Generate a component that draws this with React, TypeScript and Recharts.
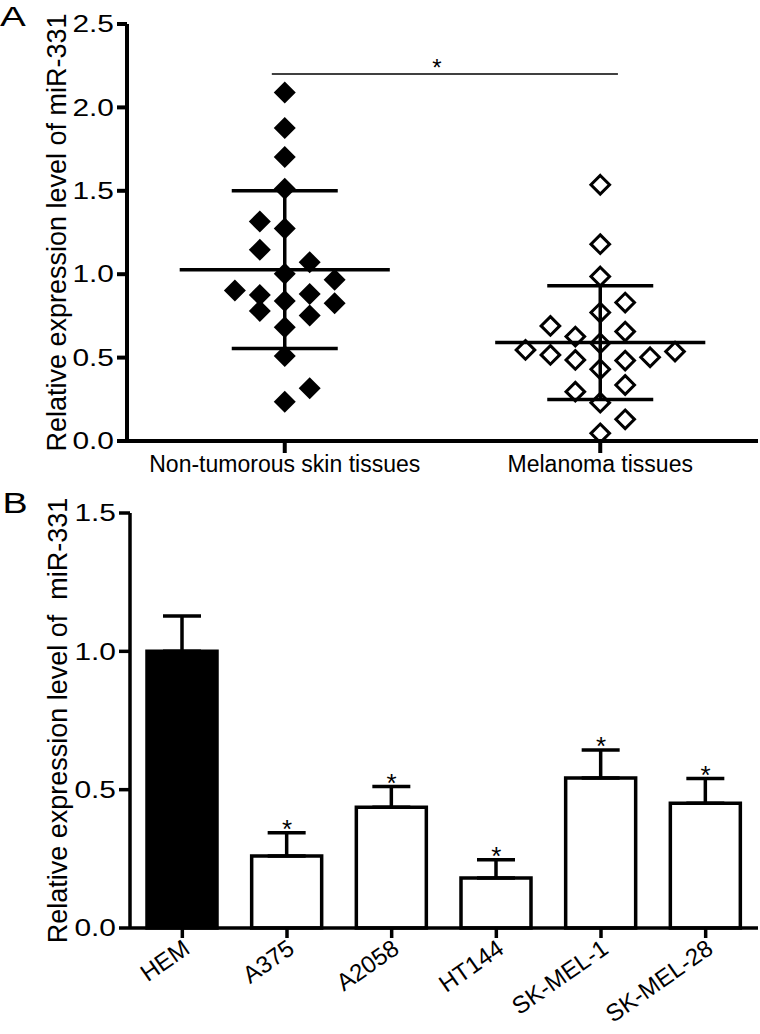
import React from "react";
import {
  Bar,
  Cell,
  ComposedChart,
  ErrorBar,
  Label,
  LabelList,
  Line,
  ReferenceLine,
  Scatter,
  ScatterChart,
  XAxis,
  YAxis,
} from "recharts";

const FONT = '"Liberation Sans", Arial, Helvetica, sans-serif';
const INK = "#000";

// Panel A: relative miR-331 per tissue sample
const TISSUE_GROUPS = ["Non-tumorous skin tissues", "Melanoma tissues"];
const NON_TUMOROUS = [
  2.089, 1.876, 1.702, 1.512, 1.316, 1.274, 1.146, 1.072, 1.002, 0.966, 0.902,
  0.876, 0.882, 0.84, 0.826, 0.78, 0.752, 0.682, 0.51, 0.316, 0.236,
];
// column of each dot inside its group (GraphPad-style scatter spread)
const NON_TUMOROUS_COL = [0, 0, 0, 0, -1, 0, -1, 1, 0, 2, -2, -1, 1, 0, 2, -1, 1, 0, 0, 1, 0];
const MELANOMA = [
  1.536, 1.18, 0.986, 0.83, 0.77, 0.69, 0.626, 0.656, 0.586, 0.546, 0.516,
  0.486, 0.482, 0.502, 0.536, 0.43, 0.336, 0.296, 0.23, 0.13, 0.046,
];
const MELANOMA_COL = [0, 0, 0, 1, 0, -2, -1, 1, 0, -3, -2, -1, 1, 2, 3, 0, 1, -1, 0, 1, 0];
const TISSUE_MEAN = [1.027, 0.59];
const TISSUE_SD = [0.473, 0.341];
const TISSUE_TICKS = [0, 0.5, 1, 1.5, 2, 2.5];
const TISSUE_SIG = { from: 0.459, to: 1.556, y: 2.2, mark: "*" };

// Panel B: cell lines, mean + SD
const CELL_LINES = ["HEM", "A375", "A2058", "HT144", "SK-MEL-1", "SK-MEL-28"];
const CELL_MEAN = [1.0, 0.26, 0.436, 0.181, 0.542, 0.451];
const CELL_SD = [0.128, 0.084, 0.075, 0.066, 0.101, 0.089];
const CELL_SIG = ["", "*", "*", "*", "*", "*"];
const CELL_TICKS = [0, 0.5, 1, 1.5];

const JITTER = 0.079; // x-units between dot columns
const MEAN_HALF = 0.333;
const CAP_HALF = 0.168;

const toPoints = (vals: number[], cols: number[], group: number) =>
  vals.map((v, i) => ({ x: group + 0.5 + cols[i] * JITTER, y: v }));

const nonTumorousPts = toPoints(NON_TUMOROUS, NON_TUMOROUS_COL, 0);
const melanomaPts = toPoints(MELANOMA, MELANOMA_COL, 1);

const cellData = CELL_LINES.map((name, i) => ({
  name,
  mean: CELL_MEAN[i],
  err: [0, CELL_SD[i]],
  capTop: CELL_MEAN[i] + CELL_SD[i],
  sig: CELL_SIG[i],
}));

const diamond = (cx: number, cy: number, r: number) =>
  `M${cx},${cy - r}L${cx + r},${cy}L${cx},${cy + r}L${cx - r},${cy}Z`;

const FilledDiamond = (p: any) => <path d={diamond(p.cx, p.cy, 11)} fill={INK} />;
const OpenDiamond = (p: any) => (
  <path d={diamond(p.cx, p.cy, 9.3)} fill="none" stroke={INK} strokeWidth={3} />
);

// tick numbers in the figure are set noticeably wide
function WideTick(props: any) {
  const { x, y, payload } = props;
  return (
    <g transform={`translate(${x},${y})`}>
      <text
        transform="scale(1.3,1)"
        textAnchor="end"
        dy="0.355em"
        fontSize={23}
        fontFamily={FONT}
        fill={INK}
      >
        {Number(payload.value).toFixed(1)}
      </text>
    </g>
  );
}

function SlantTick(props: any) {
  const { x, y, payload } = props;
  return (
    <g transform={`translate(${x + 9},${y + 12}) rotate(-35)`}>
      <text x={0} y={0} textAnchor="end" fontSize={24} fontFamily={FONT} fill={INK}>
        {payload.value}
      </text>
    </g>
  );
}

const axisTitle = (text: string, baseX: number) => (props: any) => {
  const vb = props.viewBox;
  const x = vb.x + baseX;
  const y = vb.y + vb.height / 2;
  return (
    <text
      x={x}
      y={y}
      transform={`rotate(-90, ${x}, ${y})`}
      textAnchor="middle"
      fontSize={27}
      fontFamily={FONT}
      fill={INK}
      style={{ whiteSpace: "pre" }}
    >
      {text}
    </text>
  );
};

function StarLabel(props: any) {
  const { value } = props;
  if (!value) return null;
  const x = props.x ?? props.viewBox?.x;
  const y = props.y ?? props.viewBox?.y;
  return (
    <text x={x} y={y + 5} textAnchor="middle" fontSize={26} fontFamily={FONT} fill={INK}>
      {value}
    </text>
  );
}

const lineStyle = { stroke: INK, strokeWidth: 3.5 };

export default function App() {
  return (
    <div
      style={{
        position: "absolute",
        left: 0,
        top: 0,
        width: 760,
        height: 1034,
        background: "#fff",
        fontFamily: FONT,
      }}
    >
      <svg width={760} height={1034} style={{ position: "absolute", left: 0, top: 0 }}>
        <text x={0} y={26} fontSize={28} fontFamily={FONT} fill={INK} transform="scale(1.38,1)">
          A
        </text>
        <text x={2} y={513} fontSize={29} fontFamily={FONT} fill={INK} transform="scale(1.3,1)">
          B
        </text>
      </svg>

      <div style={{ position: "absolute", left: 0, top: 0 }}>
        <ScatterChart width={760} height={490} margin={{ top: 24, right: 2, bottom: 0, left: 0 }}>
          <XAxis
            type="number"
            dataKey="x"
            domain={[0, 2]}
            ticks={[0.5, 1.5]}
            tickFormatter={(v: number) => TISSUE_GROUPS[Math.floor(v)]}
            height={49}
            axisLine={{ stroke: INK, strokeWidth: 4 }}
            tickLine={{ stroke: INK, strokeWidth: 4 }}
            tickSize={12}
            tickMargin={3}
            tick={{ fill: INK, fontSize: 23, fontFamily: FONT }}
          />
          <YAxis
            type="number"
            dataKey="y"
            domain={[0, 2.5]}
            ticks={TISSUE_TICKS}
            width={127}
            axisLine={{ stroke: INK, strokeWidth: 4 }}
            tickLine={{ stroke: INK, strokeWidth: 4 }}
            tickSize={10}
            tickMargin={3}
            tick={<WideTick />}
          >
            <Label content={axisTitle("Relative expression level of miR-331", 66)} />
          </YAxis>
          <Scatter data={nonTumorousPts} shape={FilledDiamond} isAnimationActive={false} />
          <Scatter data={melanomaPts} shape={OpenDiamond} isAnimationActive={false} />
          {TISSUE_MEAN.map((m, g) => (
            <ReferenceLine
              key={`mean${g}`}
              segment={[
                { x: g + 0.5 - MEAN_HALF, y: m },
                { x: g + 0.5 + MEAN_HALF, y: m },
              ]}
              {...lineStyle}
            />
          ))}
          {TISSUE_MEAN.map((m, g) => (
            <ReferenceLine
              key={`sd${g}`}
              segment={[
                { x: g + 0.5, y: m - TISSUE_SD[g] },
                { x: g + 0.5, y: m + TISSUE_SD[g] },
              ]}
              {...lineStyle}
            />
          ))}
          {TISSUE_MEAN.map((m, g) => (
            <ReferenceLine
              key={`hi${g}`}
              segment={[
                { x: g + 0.5 - CAP_HALF, y: m + TISSUE_SD[g] },
                { x: g + 0.5 + CAP_HALF, y: m + TISSUE_SD[g] },
              ]}
              {...lineStyle}
            />
          ))}
          {TISSUE_MEAN.map((m, g) => (
            <ReferenceLine
              key={`lo${g}`}
              segment={[
                { x: g + 0.5 - CAP_HALF, y: m - TISSUE_SD[g] },
                { x: g + 0.5 + CAP_HALF, y: m - TISSUE_SD[g] },
              ]}
              {...lineStyle}
            />
          ))}
          <ReferenceLine
            segment={[
              { x: TISSUE_SIG.from, y: TISSUE_SIG.y },
              { x: TISSUE_SIG.to, y: TISSUE_SIG.y },
            ]}
            stroke={INK}
            strokeWidth={1.5}
            label={{
              value: TISSUE_SIG.mark,
              position: "top",
              offset: -2,
              dx: -8,
              fontSize: 24,
              fontFamily: FONT,
              fill: INK,
            }}
          />
        </ScatterChart>
      </div>

      <div style={{ position: "absolute", left: 0, top: 490 }}>
        <ComposedChart
          width={760}
          height={544}
          data={cellData}
          margin={{ top: 23, right: 2, bottom: 0, left: 0 }}
        >
          <XAxis
            dataKey="name"
            height={106}
            interval={0}
            axisLine={{ stroke: INK, strokeWidth: 3.5 }}
            tickLine={{ stroke: INK, strokeWidth: 3.5 }}
            tickSize={10}
            tickMargin={2}
            tick={<SlantTick />}
          />
          <YAxis
            domain={[0, 1.5]}
            ticks={CELL_TICKS}
            width={130}
            axisLine={{ stroke: INK, strokeWidth: 3.5 }}
            tickLine={{ stroke: INK, strokeWidth: 3.5 }}
            tickSize={11}
            tickMargin={3}
            tick={<WideTick />}
          >
            <Label content={axisTitle("Relative expression level of  miR-331", 67)} />
          </YAxis>
          <Bar dataKey="mean" barSize={70} stroke={INK} strokeWidth={3.5} isAnimationActive={false}>
            {cellData.map((d, i) => (
              <Cell key={d.name} fill={i === 0 ? INK : "#fff"} />
            ))}
            <ErrorBar dataKey="err" direction="y" width={19} stroke={INK} strokeWidth={3.5} />
          </Bar>
          <Line
            dataKey="capTop"
            stroke="none"
            dot={false}
            activeDot={false}
            isAnimationActive={false}
          >
            <LabelList dataKey="sig" content={StarLabel} />
          </Line>
        </ComposedChart>
      </div>
    </div>
  );
}
